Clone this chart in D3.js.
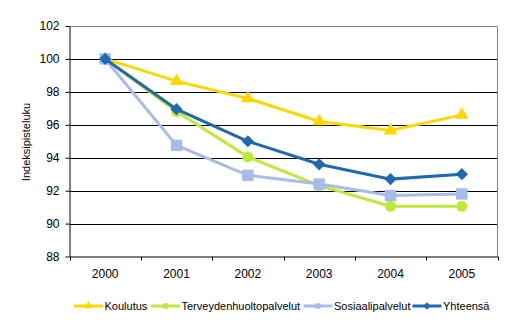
<!DOCTYPE html>
<html>
<head>
<meta charset="utf-8">
<script src="https://cdn.jsdelivr.net/npm/d3@7"></script>
<style>
body { margin: 0; background: #fff; }
svg { display: block; font-family: "Liberation Sans", Arial, sans-serif; }
</style>
</head>
<body>
<div id="viz_div"></div>
<script>
// Years on the x axis
var years = ["2000", "2001", "2002", "2003", "2004", "2005"];

// Index values per sector (2000 = 100)
var koulutus    = [100, 98.65, 97.6, 96.2, 95.65, 96.6];
var terveys     = [100, 96.8, 94.05, 92.3, 91.05, 91.05];
var sosiaali    = [100, 94.75, 92.93, 92.4, 91.7, 91.8];
var yhteensa    = [100, 96.95, 95.0, 93.6, 92.7, 93.0];

var series_names = ["Koulutus", "Terveydenhuoltopalvelut", "Sosiaalipalvelut", "Yhteensä"];
var y_ticks = [88, 90, 92, 94, 96, 98, 100, 102];

var series = [
	{ name: series_names[0], values: koulutus, color: "#ffd700", shape: "triangle" },
	{ name: series_names[1], values: terveys,  color: "#bfe83a", shape: "circle" },
	{ name: series_names[2], values: sosiaali, color: "#a8bbea", shape: "square" },
	{ name: series_names[3], values: yhteensa, color: "#1f69b0", shape: "diamond" }
];

var w = 512, h = 324;
// plot area edges
var pl = 69.5, pr = 497.5, pt = 26, pb = 256.5;

var svg = d3.select("#viz_div")
			.append("svg")
			.attr("width", w)
			.attr("height", h);

var x = d3.scaleBand().domain(years).range([pl, pr]);
var y = d3.scaleLinear().domain([88, 102]).range([pb, pt]);

// gridlines
svg.append("g")
	.selectAll("line")
	.data(y_ticks.filter(function(d) { return d > 88 && d < 102; }))
	.enter()
	.append("line")
	.attr("x1", pl).attr("x2", pr)
	.attr("y1", function(d) { return Math.round(y(d)) + 0.5; })
	.attr("y2", function(d) { return Math.round(y(d)) + 0.5; })
	.attr("stroke", "#000")
	.attr("stroke-width", 1);

// top and right border
svg.append("path")
	.attr("d", "M" + pl + "," + (pt + 0.5) + "H" + pr + "V" + pb)
	.attr("fill", "none")
	.attr("stroke", "#808080")
	.attr("stroke-width", 1);

// y axis
var yAxis = svg.append("g")
	.attr("transform", "translate(" + pl + ",0)")
	.call(d3.axisLeft(y).tickValues(y_ticks).tickSize(4).tickPadding(6).tickSizeOuter(0));
yAxis.select(".domain").attr("stroke", "#000");
yAxis.selectAll(".tick line").attr("stroke", "#000");
yAxis.selectAll("text").attr("font-size", 12).attr("fill", "#000")
	.attr("font-family", "Liberation Sans, Arial, sans-serif");

// x axis, ticks sit on the category boundaries
var xAxis = svg.append("g")
	.attr("transform", "translate(0," + pb + ")")
	.call(d3.axisBottom(x).tickSize(0).tickPadding(13));
xAxis.select(".domain").attr("stroke", "#000");
xAxis.selectAll("text").attr("font-size", 12).attr("fill", "#000")
	.attr("font-family", "Liberation Sans, Arial, sans-serif");
xAxis.selectAll(".boundary")
	.data(years.concat(["end"]))
	.enter()
	.append("line")
	.attr("x1", function(d, i) { return Math.round(pl + i * x.bandwidth()) + 0.5; })
	.attr("x2", function(d, i) { return Math.round(pl + i * x.bandwidth()) + 0.5; })
	.attr("y1", 0).attr("y2", 4)
	.attr("stroke", "#000");

// y axis title
svg.append("text")
	.attr("transform", "translate(30,142) rotate(-90)")
	.attr("text-anchor", "middle")
	.attr("font-size", 11)
	.text("Indeksipisteluku");

// marker shapes; the diamond is a square turned 45 degrees
function marker_path(shape, s) {
	var sym = { triangle: d3.symbolTriangle, circle: d3.symbolCircle,
				square: d3.symbolSquare, diamond: d3.symbolSquare }[shape];
	return d3.symbol().type(sym).size(s)();
}
var marker_size = { triangle: 78, circle: 95, square: 130, diamond: 75 };

var line = d3.line()
	.x(function(d, i) { return x(years[i]) + x.bandwidth() / 2; })
	.y(function(d) { return y(d); });

series.forEach(function(s) {
	var g = svg.append("g");
	g.append("path")
		.attr("d", line(s.values))
		.attr("fill", "none")
		.attr("stroke", s.color)
		.attr("stroke-width", 3);
	g.selectAll("path.mk")
		.data(s.values)
		.enter()
		.append("path")
		.attr("class", "mk")
		.attr("transform", function(d, i) {
			return "translate(" + (x(years[i]) + x.bandwidth() / 2) + "," + y(d) + ")" +
				(s.shape == "diamond" ? " rotate(45)" : "");
		})
		.attr("d", marker_path(s.shape, marker_size[s.shape]))
		.attr("fill", s.color);
});

// legend
var legend_x = [74, 151, 303.5, 412.5];
var legend = svg.append("g");
series.forEach(function(s, i) {
	var g = legend.append("g").attr("transform", "translate(" + legend_x[i] + ",306)");
	g.append("line")
		.attr("x1", 0).attr("x2", 29)
		.attr("stroke", s.color)
		.attr("stroke-width", 3);
	g.append("path")
		.attr("transform", "translate(14.5,0)" + (s.shape == "diamond" ? " rotate(45)" : ""))
		.attr("d", marker_path(s.shape, 28))
		.attr("fill", s.color);
	g.append("text")
		.attr("x", 30.5)
		.attr("y", 4)
		.attr("font-size", 11)
		.text(s.name);
});
</script>
</body>
</html>
